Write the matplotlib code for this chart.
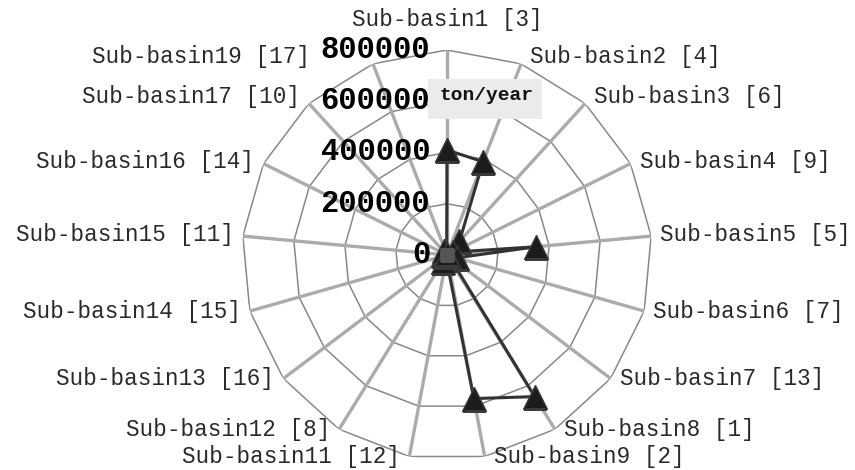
import numpy as np
import matplotlib
matplotlib.use("Agg")
import matplotlib.pyplot as plt
from matplotlib.patches import Rectangle

# Sediment load per sub-basin (ton/year); bracketed number is the rank
categories = [
    "Sub-basin1 [3]", "Sub-basin2 [4]", "Sub-basin3 [6]", "Sub-basin4 [9]",
    "Sub-basin5 [5]", "Sub-basin6 [7]", "Sub-basin7 [13]", "Sub-basin8 [1]",
    "Sub-basin9 [2]", "Sub-basin11 [12]", "Sub-basin12 [8]", "Sub-basin13 [16]",
    "Sub-basin14 [15]", "Sub-basin15 [11]", "Sub-basin16 [14]",
    "Sub-basin17 [10]", "Sub-basin19 [17]",
]
load = [410000, 390000, 72000, 25000, 350000, 40000, 12000, 650000,
        570000, 15000, 30000, 6000, 8000, 17000, 10000, 20000, 4000]
baseline = [0, 0, 0, 0, 0, 0, 0, 0, 0, 0, 0, 0, 0, 0, 0, 0, 0]
scale_ticks = [0, 200000, 400000, 600000, 800000]
unit_label = "ton/year"

W, H = 855, 470
DPI = 100
fig = plt.figure(figsize=(W / DPI, H / DPI), dpi=DPI)
fig.patch.set_facecolor("white")

cx, cy, R = 447, 255, 205
ax = fig.add_axes([(cx - R) / W, (H - cy - R) / H, 2 * R / W, 2 * R / H],
                  projection="polar")
ax.set_theta_zero_location("N")
ax.set_theta_direction(-1)
ax.set_ylim(0, scale_ticks[-1])
ax.grid(False)
ax.set_xticks([])
ax.set_yticks([])
ax.spines["polar"].set_visible(False)
ax.patch.set_visible(False)

n = len(categories)
theta = np.arange(n) * 2 * np.pi / n
theta_closed = np.append(theta, theta[0])

mono = ["Liberation Mono", "DejaVu Sans Mono"]

# polygon rings
for t in scale_ticks[1:]:
    ax.plot(theta_closed, [t] * (n + 1), color="#888888", lw=1.1,
            zorder=1, solid_joinstyle="miter")
# spokes
for th in theta:
    ax.plot([th, th], [0, scale_ticks[-1]], color="#ababab", lw=2.4,
            zorder=2, solid_capstyle="butt")

# data series
load_closed = load + load[:1]
ax.plot(theta_closed, load_closed, color="#333333", lw=2.2, zorder=4,
        marker="^", ms=17, mfc="#1c1c1c", mec="#3a3a3a", mew=1.0)
ax.plot(theta, baseline, ls="none", marker="s", ms=8,
        mfc="#555555", mec="#555555", zorder=5)

# scale labels along the top spoke
for t in scale_ticks:
    ax.annotate(f"{t}", xy=(0, t), xytext=(-17, 0), textcoords="offset pixels",
                ha="right", va="center", fontsize=22, fontweight="bold",
                family=mono, color="black", zorder=6, annotation_clip=False)

# category labels around the outer ring
for i, (th, lab) in enumerate(zip(theta, categories)):
    s, c = np.sin(th), np.cos(th)
    if abs(s) < 0.05:
        ha, dx, dy = "center", 0, 30
    else:
        ha = "left" if s > 0 else "right"
        dx = 9 if s > 0 else -9
        dy = 7 if c > 0.5 else (2 if c > 0 else 0)
    if lab.startswith("Sub-basin19"):
        dx = -63  # keep clear of the scale labels
    ax.annotate(lab, xy=(th, scale_ticks[-1]), xytext=(dx, dy),
                textcoords="offset pixels", ha=ha, va="center",
                fontsize=16.3, family=mono, color="#2a2a2a",
                annotation_clip=False)

# unit box
fig.add_artist(Rectangle((428 / W, 1 - 119 / H), 114 / W, 40 / H,
                         transform=fig.transFigure, facecolor="#ebebeb",
                         edgecolor="none", zorder=3))
fig.text(486 / W, 1 - 95 / H, unit_label, ha="center", va="center",
         fontsize=14, fontweight="bold", family=mono, color="#111111",
         zorder=4)

fig.savefig("out.png", dpi=DPI, facecolor="white")
